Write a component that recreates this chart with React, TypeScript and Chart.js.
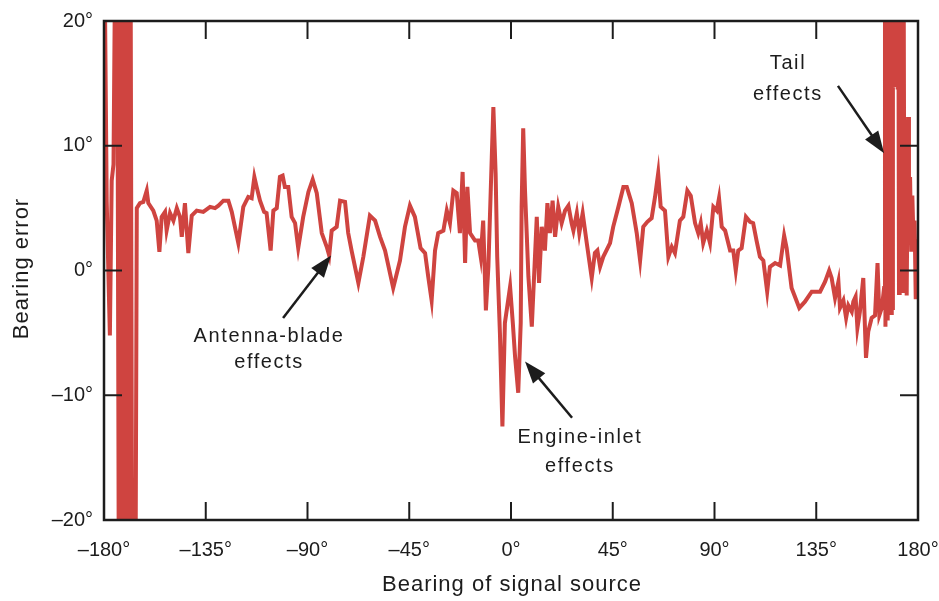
import { useEffect, useRef } from 'react';
import { Chart, registerables } from 'chart.js';

Chart.register(...registerables);

// ---- Data: [bearing of signal source (deg), bearing error (deg)] ----
const leftEdgeTrace: [number, number][] = [
  [-180, 5], [-179.6, 22], [-178.8, 5.5], [-177.4, -5.2], [-176.6, 7.2], [-175.8, 8.5],
  [-175.2, 22], [-174.6, 10], [-174.1, 22], [-173.5, -22], [-173.0, 22], [-172.4, -22],
  [-171.8, 22], [-171.2, -22], [-170.6, 22], [-170.0, -22], [-169.4, 22], [-168.8, -22],
  [-168.2, 22], [-167.6, -22], [-166.0, -22], [-165.5, 5.0],
];

const portSideTrace: [number, number][] = [
  [-164.1, 5.4], [-162.6, 5.5], [-161.1, 6.4], [-160.4, 5.4], [-158.2, 4.8], [-156.7, 4.0],
  [-155.5, 1.5], [-154.5, 4.3], [-153.0, 4.7], [-152.3, 3.2], [-150.8, 4.6], [-149.3, 4.0],
  [-147.8, 5.0], [-146.4, 4.3], [-145.6, 2.7], [-144.2, 5.4], [-142.7, 1.4], [-141.2, 4.4],
  [-139.0, 4.8], [-136.1, 4.7], [-133.1, 5.1], [-130.9, 5.0], [-129.4, 5.2], [-127.2, 5.6],
  [-125.0, 5.6], [-123.5, 4.7], [-120.6, 2.2], [-118.4, 5.1], [-116.2, 5.9], [-114.7, 5.8],
  [-113.5, 7.5], [-112.5, 6.7], [-111.0, 5.6], [-109.2, 4.7], [-108.1, 4.6], [-106.3, 1.6],
  [-105.1, 4.8], [-103.6, 5.0], [-102.2, 7.5], [-101.0, 7.6], [-100.0, 6.7], [-98.5, 6.7],
  [-97.0, 4.3], [-95.5, 3.8], [-94.1, 1.8], [-91.9, 4.3], [-89.6, 6.3], [-87.7, 7.3],
  [-85.9, 6.2], [-83.7, 3.0], [-81.5, 1.9], [-80.4, 1.2], [-79.3, 3.2], [-77.1, 3.5],
  [-75.6, 5.6], [-73.4, 5.5], [-72.0, 3.0], [-70.5, 1.6], [-67.5, -1.0], [-65.3, 1.1],
  [-62.4, 4.4], [-60.1, 4.0], [-57.9, 2.7], [-55.7, 1.6], [-52.1, -1.4], [-49.1, 0.8],
  [-46.9, 3.5], [-44.7, 5.2], [-42.5, 4.3], [-40.0, 1.8], [-38.0, 1.4], [-36.6, -0.5],
  [-35.1, -2.4], [-33.6, 1.6], [-32.2, 3.0], [-29.9, 3.2], [-28.4, 4.8], [-27.0, 3.8],
  [-25.5, 6.4], [-24.0, 6.2], [-22.6, 3.0], [-21.4, 7.9], [-20.3, 0.6], [-19.3, 6.7],
  [-18.1, 3.0], [-15.9, 2.4], [-14.5, 2.4], [-13.4, 1.1], [-12.3, 4.0],
];

const noseTrace: [number, number][] = [
  [-11.1, -3.2], [-10.0, 0.3], [-8.5, 9.1], [-7.8, 13.1], [-6.8, 7.8], [-6.1, 1.1],
  [-4.9, -5.0], [-3.8, -12.5], [-2.7, -4.2], [-0.4, -1.3], [0.8, -4.2], [1.8, -6.9],
  [3.2, -9.8], [4.3, -4.2], [4.7, 5.1], [5.4, 11.4], [6.2, 6.4], [6.9, 3.2], [7.7, -0.5],
  [9.2, -4.5], [10.2, -0.5], [11.4, 4.3], [12.4, -1.0], [13.6, 3.5], [15.0, 1.6],
  [16.1, 5.4], [17.2, 3.0], [18.4, 5.6], [19.5, 2.7], [20.9, 5.1], [22.4, 3.8],
  [23.9, 4.8], [25.4, 5.2], [26.8, 3.8],
];

const starboardTrace: [number, number][] = [
  [27.6, 3.2], [29.1, 4.6], [30.2, 3.0], [31.7, 4.6], [33.5, 2.2], [35.7, -0.6],
  [37.1, 1.4], [38.2, 1.6], [39.4, 0.3], [40.8, 1.1], [43.8, 2.2], [45.2, 3.5],
  [47.5, 5.1], [49.7, 6.7], [51.2, 6.7], [53.4, 5.4], [55.6, 3.0], [57.1, 0.8],
  [58.5, 3.5], [60.3, 3.9], [62.2, 4.2], [63.7, 5.9], [65.1, 7.8], [66.2, 5.1],
  [68.1, 4.8], [69.6, 1.1], [71.1, 1.9], [72.5, 1.4], [74.7, 4.0], [76.2, 4.3],
  [78.0, 6.4], [79.5, 6.0], [81.4, 3.8], [82.8, 3.0], [83.9, 3.8], [85.0, 2.2],
  [86.6, 3.2], [88.0, 2.2], [89.5, 5.1], [91.0, 4.8], [92.0, 5.8], [93.2, 3.5],
  [94.7, 3.2], [96.9, 1.6], [98.3, 1.6], [99.4, 0.0], [100.5, 1.6], [102.0, 1.8],
  [103.9, 4.3], [105.7, 3.9], [107.1, 3.8], [108.6, 2.4], [110.1, 1.1], [111.6, 0.8],
  [113.3, -1.7], [114.5, 0.3], [116.8, 0.6], [119.0, 0.4], [120.8, 2.8], [121.9, 1.8],
  [124.1, -1.4], [127.5, -3.0], [130.0, -2.5], [133.0, -1.7], [136.7, -1.7], [138.9, -0.9],
  [140.7, 0.0], [141.8, -0.6], [143.3, -2.2], [144.8, -0.9], [145.5, -3.0], [147.0, -2.4],
  [148.2, -3.8], [149.2, -2.8], [150.7, -3.3], [151.4, -2.5], [152.4, -2.1], [153.2, -4.6],
  [154.3, -3.3], [155.8, -0.6], [157.0, -7.0], [158.0, -4.9], [159.5, -3.8], [161.0, -3.6],
  [162.1, 0.6], [162.9, -3.6], [164.0, -3.0], [165.0, -1.4],
];

const tailTrace: [number, number][] = [
  [165.4, 25], [165.6, -4.5], [165.9, 25], [166.1, -3.0], [166.4, 25], [166.6, -4.0],
  [166.9, 25], [167.1, -2.0], [167.4, 25], [167.6, 13.5], [167.9, 25], [168.1, -3.4],
  [168.4, 25], [168.6, -3.0], [168.9, 25], [169.2, 15.0], [169.5, 25], [169.8, 14.7],
  [170.1, 25], [170.4, 15.0], [170.7, 25], [171.0, 14.5], [171.3, 25], [171.6, -1.8],
  [171.9, 25], [172.2, -1.5], [172.5, 25], [172.8, -1.8], [173.1, 25], [173.4, -1.0],
  [173.7, 20.5], [174.0, -1.8], [174.5, 5.0], [175.0, -2.0], [175.6, 12.3], [176.0, 5.0],
  [176.5, 7.5], [177.0, 1.5], [177.5, 6.0], [178.0, 2.5], [178.5, 4.0], [179.0, -2.3],
  [179.5, 2.5], [180.0, -2.0],
];

const xTickValues = [-180, -135, -90, -45, 0, 45, 90, 135, 180];
const xTickLabels = ['–180°', '–135°', '–90°', '–45°', '0°', '45°', '90°', '135°', '180°'];
const yTickValues = [-20, -10, 0, 10, 20];
const yTickLabels = ['–20°', '–10°', '0°', '10°', '20°'];
const xTitle = 'Bearing of signal source';
const yTitle = 'Bearing error';

type Note = { lines: { text: string; x: number; y: number }[]; from: [number, number]; to: [number, number] };
const notes: Note[] = [
  {
    lines: [{ text: 'Antenna-blade', x: -107.0, y: -5.3 }, { text: 'effects', x: -107.0, y: -7.4 }],
    from: [-100.8, -3.8], to: [-79.6, 1.2],
  },
  {
    lines: [{ text: 'Engine-inlet', x: 30.5, y: -13.4 }, { text: 'effects', x: 30.5, y: -15.7 }],
    from: [27.0, -11.8], to: [6.2, -7.3],
  },
  {
    lines: [{ text: 'Tail', x: 122.5, y: 16.6 }, { text: 'effects', x: 122.5, y: 14.1 }],
    from: [144.6, 14.8], to: [165.0, 9.4],
  },
];

const FONT = '"Liberation Sans", Arial, Helvetica, sans-serif';
const INK = '#1c1c1c';

const overlayPlugin = {
  id: 'overlay',
  afterDraw(chart: any) {
    const { ctx, chartArea: a, scales } = chart;
    const xs = scales.x;
    const ys = scales.y;
    ctx.save();
    ctx.strokeStyle = INK;
    ctx.lineCap = 'butt';
    // frame
    ctx.lineWidth = 2.5;
    ctx.strokeRect(a.left, a.top, a.right - a.left, a.bottom - a.top);
    // inward ticks on all sides
    const tl = 18;
    ctx.lineWidth = 2;
    const seg = (x1: number, y1: number, x2: number, y2: number) => {
      ctx.beginPath();
      ctx.moveTo(x1, y1);
      ctx.lineTo(x2, y2);
      ctx.stroke();
    };
    xTickValues.slice(1, -1).forEach((v) => {
      const px = xs.getPixelForValue(v);
      seg(px, a.bottom, px, a.bottom - tl);
      seg(px, a.top, px, a.top + tl);
    });
    yTickValues.slice(1, -1).forEach((v) => {
      const py = ys.getPixelForValue(v);
      seg(a.left, py, a.left + tl, py);
      seg(a.right, py, a.right - tl, py);
    });
    // axis titles
    ctx.fillStyle = INK;
    ctx.textAlign = 'center';
    ctx.textBaseline = 'middle';
    ctx.font = `22px ${FONT}`;
    (ctx as any).letterSpacing = '1px';
    ctx.fillText(xTitle, (a.left + a.right) / 2 + 1, 585);
    ctx.save();
    ctx.translate(22, (a.top + a.bottom) / 2 - 2);
    ctx.rotate(-Math.PI / 2);
    ctx.fillText(yTitle, 0, 0);
    ctx.restore();
    // annotations
    ctx.font = `20px ${FONT}`;
    (ctx as any).letterSpacing = '1.6px';
    notes.forEach((n) => {
      n.lines.forEach((l) => {
        ctx.fillText(l.text, xs.getPixelForValue(l.x), ys.getPixelForValue(l.y));
      });
      const x1 = xs.getPixelForValue(n.from[0]);
      const y1 = ys.getPixelForValue(n.from[1]);
      const x2 = xs.getPixelForValue(n.to[0]);
      const y2 = ys.getPixelForValue(n.to[1]);
      const ang = Math.atan2(y2 - y1, x2 - x1);
      const hl = 22;
      const hw = 8;
      const bx = x2 - hl * Math.cos(ang);
      const by = y2 - hl * Math.sin(ang);
      ctx.lineWidth = 2.5;
      seg(x1, y1, bx + 2 * Math.cos(ang), by + 2 * Math.sin(ang));
      ctx.beginPath();
      ctx.moveTo(x2, y2);
      ctx.lineTo(bx + hw * Math.sin(ang), by - hw * Math.cos(ang));
      ctx.lineTo(bx - hw * Math.sin(ang), by + hw * Math.cos(ang));
      ctx.closePath();
      ctx.fill();
    });
    ctx.restore();
  },
};

export default function App() {
  const canvasRef = useRef<HTMLCanvasElement | null>(null);

  useEffect(() => {
    document.body.style.margin = '0';
    document.body.style.background = '#ffffff';
    const canvas = canvasRef.current;
    if (!canvas) return;
    const points = [...leftEdgeTrace, ...portSideTrace, ...noseTrace, ...starboardTrace, ...tailTrace].map(
      ([x, y]) => ({ x, y })
    );
    const chart = new Chart(canvas, {
      type: 'line',
      data: {
        datasets: [
          {
            data: points,
            borderColor: '#cf4440',
            borderWidth: 4,
            pointRadius: 0,
            tension: 0,
            borderJoin: 'round',
            fill: false,
          } as any,
        ],
      },
      plugins: [overlayPlugin],
      options: {
        animation: false,
        responsive: false,
        maintainAspectRatio: false,
        parsing: false,
        layout: { padding: { top: 21, right: 21, left: 0, bottom: 0 } },
        plugins: { legend: { display: false }, tooltip: { enabled: false }, title: { display: false } },
        scales: {
          x: {
            type: 'linear',
            min: -180,
            max: 180,
            afterBuildTicks: (s: any) => {
              s.ticks = xTickValues.map((value) => ({ value }));
            },
            afterFit: (s: any) => {
              s.height = 81;
              s.paddingLeft = 0;
              s.paddingRight = 0;
            },
            grid: { display: false, drawTicks: false },
            border: { display: false },
            ticks: {
              autoSkip: false,
              maxRotation: 0,
              padding: 18,
              color: INK,
              font: { family: FONT, size: 20 },
              callback: (v: any) => xTickLabels[xTickValues.indexOf(Number(v))] ?? '',
            },
            title: { display: false },
          },
          y: {
            type: 'linear',
            min: -20,
            max: 20,
            afterBuildTicks: (s: any) => {
              s.ticks = yTickValues.map((value) => ({ value }));
            },
            afterFit: (s: any) => {
              s.width = 104;
              s.paddingTop = 0;
              s.paddingBottom = 0;
            },
            grid: { display: false, drawTicks: false },
            border: { display: false },
            ticks: {
              autoSkip: false,
              padding: 11,
              color: INK,
              font: { family: FONT, size: 20 },
              callback: (v: any) => yTickLabels[yTickValues.indexOf(Number(v))] ?? '',
            },
            title: { display: false },
          },
        },
      } as any,
    });
    return () => chart.destroy();
  }, []);

  return (
    <div style={{ width: 939, height: 601, background: '#fff' }}>
      <canvas ref={canvasRef} width={939} height={601} style={{ display: 'block' }} />
    </div>
  );
}
